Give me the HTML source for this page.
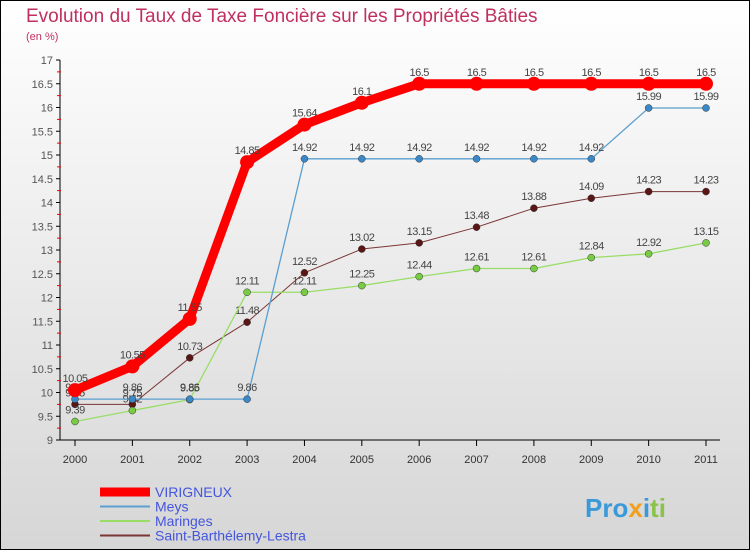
<!DOCTYPE html>
<html><head><meta charset="utf-8"><style>
body{margin:0}
#wrap{position:relative;width:750px;height:550px;overflow:hidden}
svg{display:block;font-family:"Liberation Sans",sans-serif}
</style></head><body>
<div id="wrap">
<svg id="chart" width="750" height="550">
<defs><linearGradient id="bg" x1="0" y1="0" x2="0" y2="1"><stop offset="0" stop-color="#ffffff"/><stop offset="1" stop-color="#d6d6d6"/></linearGradient></defs>
<rect x="0.5" y="0.5" width="749" height="549" fill="url(#bg)" stroke="#000"/>
<text x="26" y="22" font-size="19" fill="#c0305e">Evolution du Taux de Taxe Foncière sur les Propriétés Bâties</text>
<text x="26" y="40" font-size="11" fill="#c0305e">(en %)</text>
<g id="axes"></g><g id="series"></g><g id="legend"></g>
<text x="585" y="517" font-size="26" font-weight="bold" fill="#3a9ad9">Pro<tspan fill="#f0a020">x</tspan><tspan fill="#3a9ad9">i</tspan><tspan fill="#8bc34a">ti</tspan></text>
</svg></div>
<script>
const years=[2000,2001,2002,2003,2004,2005,2006,2007,2008,2009,2010,2011];
const virigneux=[10.05,10.55,11.55,14.85,15.64,16.1,16.5,16.5,16.5,16.5,16.5,16.5];
const meys=[9.86,9.86,9.86,9.86,14.92,14.92,14.92,14.92,14.92,14.92,15.99,15.99];
const maringes=[9.39,9.62,9.85,12.11,12.11,12.25,12.44,12.61,12.61,12.84,12.92,13.15];
const saintB=[9.75,9.75,10.73,11.48,12.52,13.02,13.15,13.48,13.88,14.09,14.23,14.23];
const yTicks=[9,9.5,10,10.5,11,11.5,12,12.5,13,13.5,14,14.5,15,15.5,16,16.5,17];
const NS="http://www.w3.org/2000/svg";
function X(i){return 75+i*(706-75)/(years.length-1);}
function Y(v){return 440-(v-9)*47.5;}
function mk(tag,attrs,parent,txt){const e=document.createElementNS(NS,tag);for(const k in attrs)e.setAttribute(k,attrs[k]);if(txt!==undefined)e.textContent=txt;parent.appendChild(e);return e;}
const ax=document.getElementById('axes');
let l=mk('line',{x1:60,y1:60,x2:60,y2:440,stroke:'#000'},ax);


l=mk('line',{x1:60,y1:440,x2:720,y2:440,stroke:'#000'},ax);


yTicks.forEach(v=>{
 mk('line',{x1:56,y1:Y(v),x2:60,y2:Y(v),stroke:'#000'},ax);
 const t=mk('text',{x:53,y:Y(v)+4,'font-size':11,fill:'#555','text-anchor':'end'},ax,String(v));
 
 
 if(v<17) mk('line',{x1:57,y1:Y(v+0.25),x2:61,y2:Y(v+0.25),stroke:'#e00'},ax);
});
years.forEach((y,i)=>{
 mk('line',{x1:X(i),y1:440,x2:X(i),y2:446,stroke:'#000'},ax);
 const t=mk('text',{x:X(i),y:463,'font-size':11,fill:'#333','text-anchor':'middle'},ax,String(y));
 
 
});
const sg=document.getElementById('series');
const defs=[
 {name:'saint-barthelemy-lestra',d:saintB,c:'#7a3535',dot:'#5a1515',w:1,r:3.5,lab:'Saint-Barthélemy-Lestra'},
 {name:'maringes',d:maringes,c:'#99dd66',dot:'#77cc44',w:1.3,r:3.5,lab:'Maringes'},
 {name:'meys',d:meys,c:'#5a9fd0',dot:'#3a88c8',w:1.3,r:3.5,lab:'Meys'},
 {name:'virigneux',d:virigneux,c:'#ff0000',dot:'#ff0000',w:9,r:7,lab:'VIRIGNEUX'}];
defs.forEach(s=>{
 const g=mk('g',{},sg);
 
 
 const p=mk('polyline',{points:s.d.map((v,i)=>X(i)+','+Y(v)).join(' '),fill:'none',stroke:s.c,'stroke-width':s.w,'stroke-linejoin':'round'},g);
 
 
 s.d.forEach((v,i)=>{
  const c=mk('circle',{cx:X(i),cy:Y(v),r:s.r,fill:s.dot,stroke:s.w>2?'none':'#333','stroke-width':0.5},g);
  
  
  const t=mk('text',{x:X(i),y:Y(v)-8,'font-size':11,fill:'#444','text-anchor':'middle','letter-spacing':'-0.5'},g,String(v));
  
  
 });
});
const lg=document.getElementById('legend');
[defs[3],defs[2],defs[1],defs[0]].forEach((s,k)=>{
 const y=492+k*14.5;
 const g=mk('g',{},lg);
 
 
 mk('line',{x1:100,y1:y,x2:150,y2:y,stroke:s.c,'stroke-width':k==0?9:2},g);
 mk('text',{x:155,y:y+5,'font-size':14,fill:'#4455dd'},g,s.lab);
});
</script>
</body></html>
